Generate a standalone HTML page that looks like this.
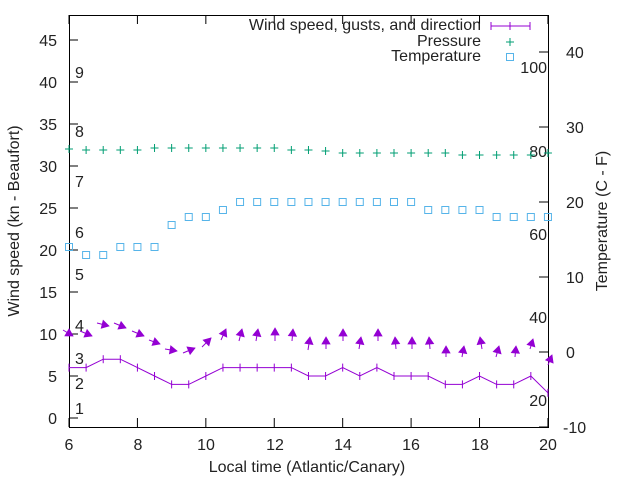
<!DOCTYPE html>
<html><head><meta charset="utf-8"><style>
html,body{margin:0;padding:0;background:#fff;}
svg{display:block;font-family:"Liberation Sans",sans-serif;}
</style></head><body>
<svg id="s" width="640" height="480" viewBox="0 0 640 480" xmlns="http://www.w3.org/2000/svg">
<rect x="0" y="0" width="640" height="480" fill="#fff"/>
<g id="grid" stroke="#000" stroke-width="1" fill="none"></g>
<g font-size="16" fill="#222">
<g text-anchor="end" id="ly">
<text x="57" y="424">0</text><text x="57" y="382">5</text><text x="57" y="340">10</text><text x="57" y="298">15</text><text x="57" y="256">20</text><text x="57" y="214">25</text><text x="57" y="172">30</text><text x="57" y="130">35</text><text x="57" y="88">40</text><text x="57" y="46">45</text>
</g>
<g text-anchor="start">
<text x="563" y="433">-10</text><text x="566" y="358">0</text><text x="566" y="283">10</text><text x="566" y="208">20</text><text x="566" y="133">30</text><text x="566" y="58">40</text>
</g>
<g text-anchor="middle">
<text x="69" y="450">6</text><text x="138" y="450">8</text><text x="206" y="450">10</text><text x="275" y="450">12</text><text x="343" y="450">14</text><text x="411" y="450">16</text><text x="480" y="450">18</text><text x="548" y="450">20</text>
</g>
<g text-anchor="start">
<text x="75" y="414">1</text><text x="75" y="389">2</text><text x="75" y="364">3</text><text x="75" y="331">4</text><text x="75" y="280">5</text><text x="75" y="238">6</text><text x="75" y="187">7</text><text x="75" y="137">8</text><text x="75" y="78">9</text>
</g>
<g text-anchor="end">
<text x="547" y="406">20</text><text x="547" y="323">40</text><text x="547" y="240">60</text><text x="547" y="157">80</text><text x="547" y="73">100</text>
</g>
<text x="307" y="472" text-anchor="middle">Local time (Atlantic/Canary)</text>
<text transform="translate(19,221) rotate(-90)" text-anchor="middle">Wind speed (kn - Beaufort)</text>
<text transform="translate(607,221) rotate(-90)" text-anchor="middle">Temperature (C - F)</text>
<g text-anchor="end">
<text x="481" y="30">Wind speed, gusts, and direction</text>
<text x="481" y="46">Pressure</text>
<text x="481" y="61">Temperature</text>
</g>
</g>
<g id="data"></g>
</svg>
<script>
const NS="http://www.w3.org/2000/svg",g=document.getElementById('grid'),d=document.getElementById('data');
function el(p,t,a){const e=document.createElementNS(NS,t);for(const k in a)e.setAttribute(k,a[k]);p.appendChild(e);return e;}
el(g,'rect',{x:69.5,y:15.5,width:479,height:412});
for(let v=0;v<=45;v+=5){const y=418-v*8.4;el(g,'line',{x1:69,x2:78,y1:y,y2:y});}
for(let v=-10;v<=40;v+=10){const y=352-v*7.5;el(g,'line',{x1:539,x2:548,y1:y,y2:y});}
const X=t=>69+(t-6)*34.21;
for(let t=6;t<=20;t+=2){el(g,'line',{x1:X(t),x2:X(t),y1:427,y2:418});el(g,'line',{x1:X(t),x2:X(t),y1:15,y2:24});}
const ws=[6,6,7,7,6,5,4,4,5,6,6,6,6,6,5,5,6,5,6,5,5,5,4,4,5,4,4,5,3];
let pts=ws.map((v,i)=>[X(6+i*0.5),418-v*8.4]);
el(d,'polyline',{points:pts.map(p=>p.join(',')).join(' '),fill:'none',stroke:'#9400d3','stroke-width':1});
pts.forEach(p=>el(d,'line',{x1:p[0],x2:p[0],y1:p[1]-4,y2:p[1]+4,stroke:'#9400d3'}));
const ar=[[63,330,73,336],[80,331,92,336],[97,323,109,326],[114,323,126,328],[132,331,144,336],[149,340,160,344],[165,349,177,351],[183,353,195,348],[202,347,211,338],[221,340,226,329],[239,341,242,329],[256,341,258,329],[275,341,275,328],[292,341,293,329],[308,350,310,337],[326,349,326,337],[343,341,343,329],[359,349,361,337],[378,341,378,329],[396,349,395,337],[412,349,412,337],[430,349,429,337],[446,357,446,346],[462,357,464,346],[482,349,480,337],[496,357,499,346],[515,357,516,346],[530,349,533,339],[548,365,552,355]];
ar.forEach(a=>{const[x1,y1,x2,y2]=a;const dx=x2-x1,dy=y2-y1,L=Math.hypot(dx,dy),ux=dx/L,uy=dy/L;
el(d,'line',{x1,y1,x2,y2,stroke:'#9400d3','stroke-width':1});
const bx=x2-ux*7,by=y2-uy*7;
el(d,'polygon',{points:`${x2},${y2} ${bx-uy*4},${by+ux*4} ${bx+uy*4},${by-ux*4}`,fill:'#9400d3',stroke:'#9400d3','stroke-width':0.8});});
const pr=[149,150,150,150,150,148,148,148,148,148,148,148,148,150,150,151,153,153,153,153,153,153,153,155,155,155,155,155,153];
pr.forEach((y,i)=>{const x=X(6+i*0.5);el(d,'path',{d:`M${x-4},${y}h8M${x},${y-4}v8`,stroke:'#009e73','stroke-width':1});});
const tp=[247,255,255,247,247,247,225,217,217,210,202,202,202,202,202,202,202,202,202,202,202,210,210,210,210,217,217,217,217];
tp.forEach((y,i)=>{const x=X(6+i*0.5);el(d,'rect',{x:x-3.5,y:y-3.5,width:7,height:7,fill:'none',stroke:'#56b4e9','stroke-width':1});});
el(d,'path',{d:'M491,26h39M491,22v8M510,22v8M530,22v8',stroke:'#9400d3','stroke-width':1});
el(d,'path',{d:'M506,42h8M510,38v8',stroke:'#009e73'});
el(d,'rect',{x:506.5,y:53.5,width:7,height:7,fill:'none',stroke:'#56b4e9'});
</script>
</body></html>
